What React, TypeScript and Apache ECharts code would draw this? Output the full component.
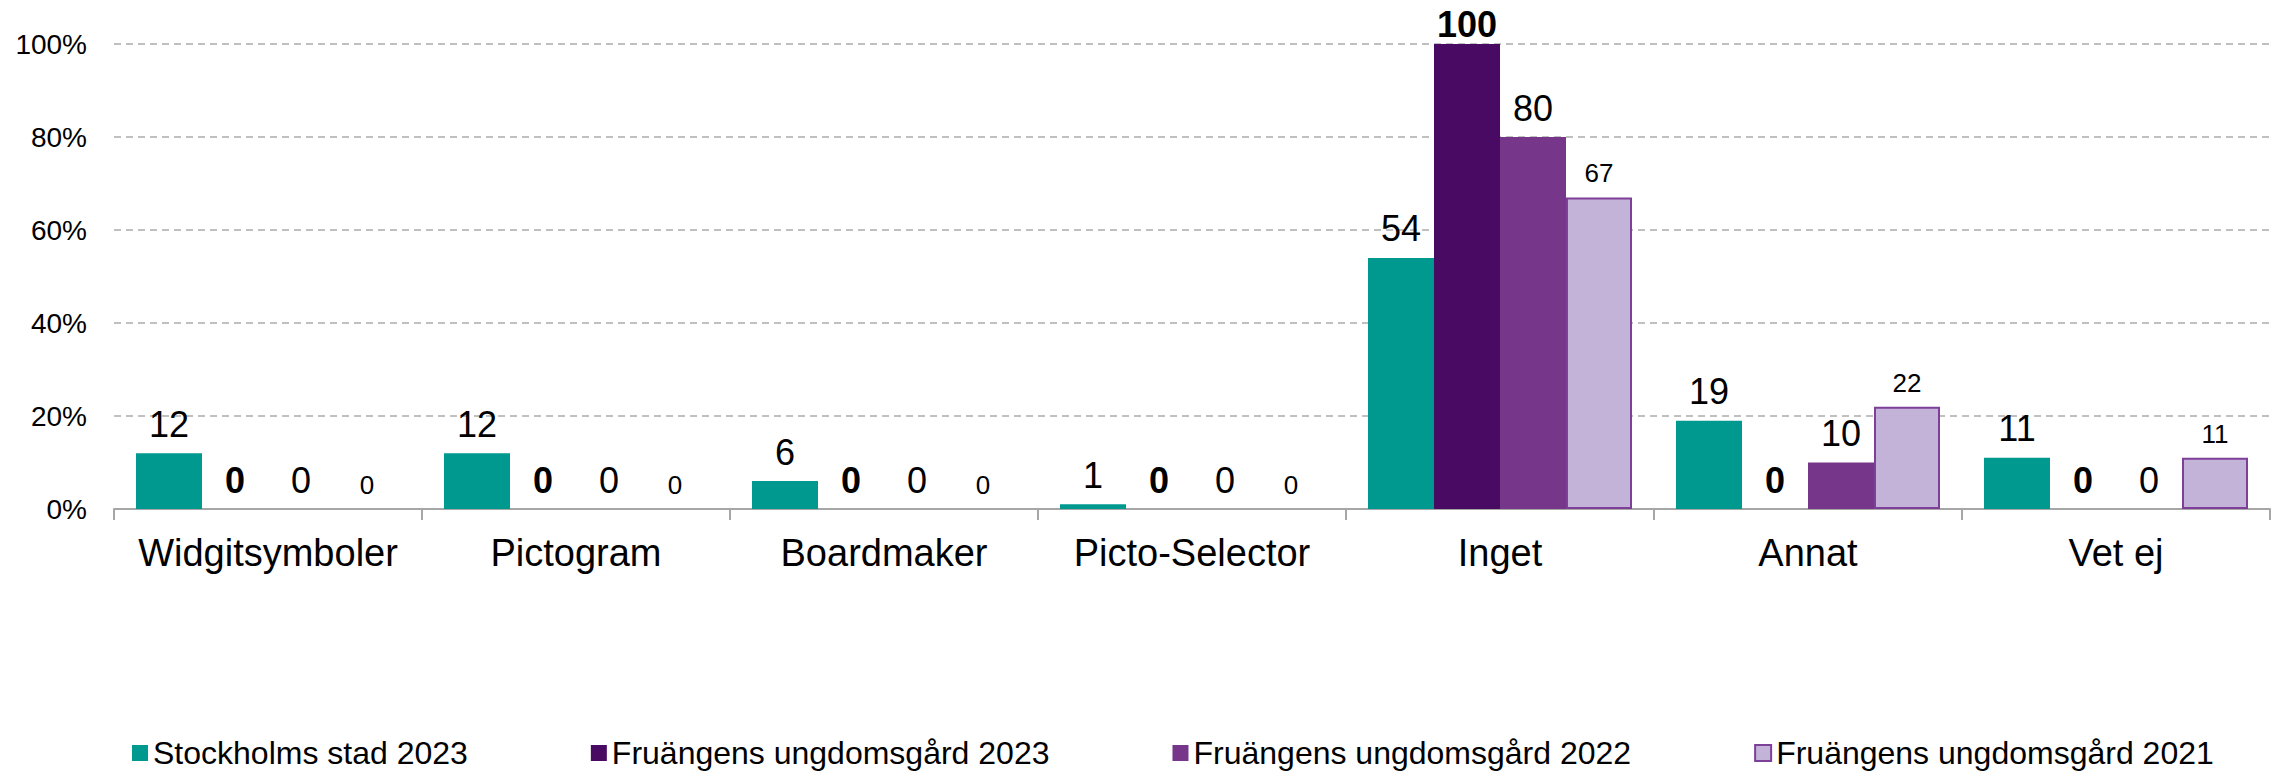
import React, { useEffect, useRef } from "react";
import * as echarts from "echarts";

const categories = ["Widgitsymboler", "Pictogram", "Boardmaker", "Picto-Selector", "Inget", "Annat", "Vet ej"];
const seriesNames = [
  "Stockholms stad 2023",
  "Fruängens ungdomsgård 2023",
  "Fruängens ungdomsgård 2022",
  "Fruängens ungdomsgård 2021",
];
const stockholm2023 = [12, 12, 6, 1, 54, 19, 11];
const fruangen2023 = [0, 0, 0, 0, 100, 0, 0];
const fruangen2022 = [0, 0, 0, 0, 80, 10, 0];
const fruangen2021 = [0, 0, 0, 0, 67, 22, 11];
const yTicks = [0, 20, 40, 60, 80, 100];

const FONT = "'Liberation Sans', Arial, sans-serif";

export default function App() {
  const ref = useRef<HTMLDivElement>(null);
  useEffect(() => {
    if (!ref.current) return;
    const chart = echarts.init(ref.current, undefined, { renderer: "svg" });
    const colors = ["#00998F", "#480A63", "#76368A", "#C3B3D8"];
    const labelSizes = [36, 36, 36, 26];
    const labelWeights = ["normal", "bold", "normal", "normal"];
    const allData = [stockholm2023, fruangen2023, fruangen2022, fruangen2021];
    const series = allData.map((arr, i) => ({
      name: seriesNames[i],
      type: "bar",
      barWidth: 66,
      barGap: "0%",
      itemStyle: {
        color: colors[i],
        borderColor: i === 3 ? "#7E3F98" : colors[i],
        borderWidth: i === 3 ? 2 : 0,
      },
      label: {
        show: true,
        position: "top",
        distance: 11,
        color: "#000",
        fontFamily: FONT,
        fontSize: labelSizes[i],
        fontWeight: labelWeights[i],
      },
      data: arr.map((v) => {
        const item: any = { value: v };
        if (v >= yTicks[yTicks.length - 1]) item.label = { distance: 2 };
        if (v === 0) item.itemStyle = { borderWidth: 0 };
        return item;
      }),
    }));
    chart.setOption({
      animation: false,
      textStyle: { fontFamily: FONT },
      legend: {
        data: seriesNames.map((n, i) => ({
          name: n,
          itemStyle:
            i === 3 ? { color: colors[3], borderColor: "#7E3F98", borderWidth: 2 } : { color: colors[i] },
        })),
        left: 127,
        top: 732,
        icon: "rect",
        itemWidth: 16,
        itemHeight: 16,
        itemGap: 123,
        textStyle: { fontFamily: FONT, fontSize: 32, color: "#000" },
      },
      grid: { left: 114, right: 12, top: 44, bottom: 262, containLabel: false },
      xAxis: {
        type: "category",
        data: categories,
        axisLine: { show: true, lineStyle: { color: "#a6a6a6", width: 2 } },
        axisTick: { show: true, length: 11, lineStyle: { color: "#a6a6a6", width: 2 } },
        axisLabel: { color: "#000", fontSize: 38, fontFamily: FONT, margin: 25, interval: 0 },
      },
      yAxis: {
        type: "value",
        min: yTicks[0],
        max: yTicks[yTicks.length - 1],
        interval: yTicks[1] - yTicks[0],
        axisLine: { show: false },
        axisTick: { show: false },
        axisLabel: { color: "#000", fontSize: 28, fontFamily: FONT, margin: 27, formatter: "{value}%" },
        splitLine: { lineStyle: { color: "#c0c0c0", width: 2, type: [7, 5] } },
      },
      series,
    });
    return () => chart.dispose();
  }, []);
  return (
    <div
      ref={ref}
      style={{ position: "fixed", left: 0, top: 0, width: 2282, height: 771, background: "#fff" }}
    />
  );
}
